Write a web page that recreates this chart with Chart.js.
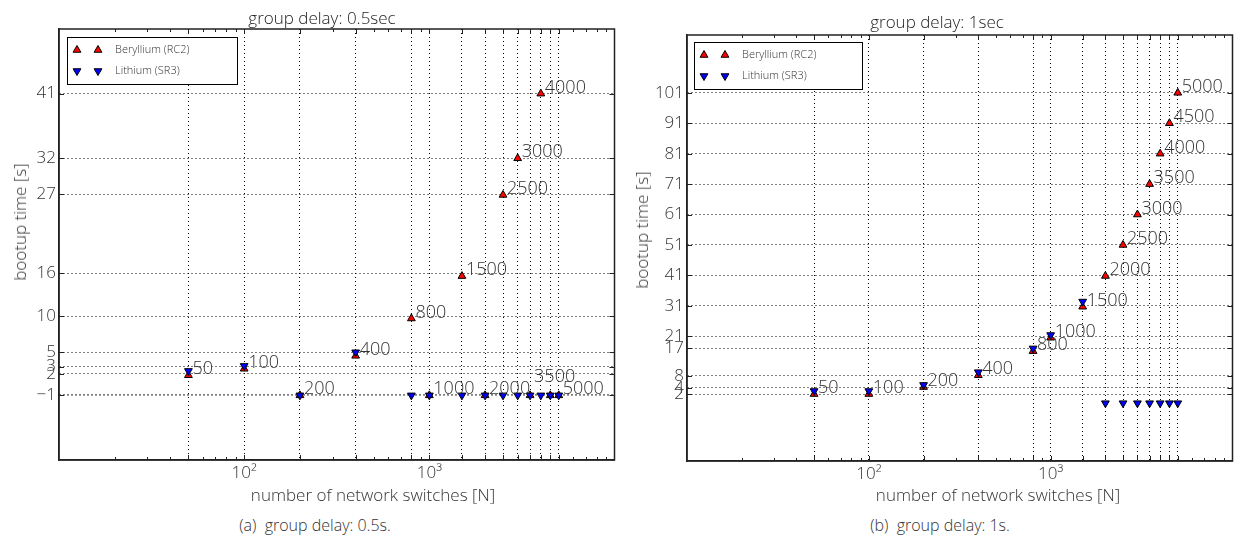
<!DOCTYPE html>
<html>
<head>
<meta charset="utf-8">
<script src="https://cdn.jsdelivr.net/npm/chart.js@4.4.1/dist/chart.umd.min.js"></script>
<style>
  body { margin: 0; background: #fff; }
  #wrap { position: relative; width: 1238px; height: 540px; font-family: "Open Sans", sans-serif; font-weight: 300; color: #333; }
  canvas { position: absolute; top: 0; }
  .txt { position: absolute; white-space: nowrap; line-height: 20px; transform: translateX(-50%); }
  .ylab { position: absolute; white-space: nowrap; line-height: 20px; font-size: 17px; transform: translate(-50%, -50%) rotate(-90deg); }
</style>
</head>
<body>
<div id="wrap">
  <canvas id="left" width="620" height="490" style="left:0"></canvas>
  <canvas id="right" width="618" height="490" style="left:620px"></canvas>

  <div class="txt" style="left:322px; top:8px; font-size:17px; color:#222">group delay: 0.5sec</div>
  <div class="txt" style="left:937px; top:12px; font-size:17px; color:#222">group delay: 1sec</div>
  <div class="ylab" style="left:20px; top:222px">bootup time [s]</div>
  <div class="ylab" style="left:642px; top:230px">bootup time [s]</div>
  <div class="txt" style="left:373px; top:485px; font-size:17px">number of network switches [N]</div>
  <div class="txt" style="left:998px; top:485px; font-size:17px">number of network switches [N]</div>
  <div class="txt" style="left:315px; top:515px; font-size:16px">(a)&nbsp; group delay: 0.5s.</div>
  <div class="txt" style="left:940px; top:515px; font-size:16px">(b)&nbsp; group delay: 1s.</div>
</div>

<script>
// number of switches (x, log scale)
const switches = [50, 100, 200, 400, 800, 1000, 1500, 2000, 2500, 3000, 3500, 4000, 4500, 5000];

// group delay 0.5 sec
const berylliumHalf = [1.8, 2.7, -1, 4.5, 9.7, -1, 15.6, -1, 26.9, 32, -1, 41, -1, -1];
const lithiumHalf   = [2.4, 3.1, -1, 5, -1, -1, -1, -1, -1, -1, -1, -1, -1, -1];
const yTicksHalf    = [-1, 2, 3, 5, 10, 16, 27, 32, 41];
const labelsHalf    = ["50", "100", "200", "400", "800", "1000", "1500", "2000", "2500", "3000", "3500", "4000", "", "5000"];

// group delay 1 sec
const berylliumOne = [2, 2, 4.3, 8.2, 16.1, 20.5, 30.7, 40.8, 51, 61, 71, 81, 91, 101];
const lithiumOne   = [3, 3, 5, 9.2, 17, 21.4, 32.4, -1, -1, -1, -1, -1, -1, -1];
const yTicksOne    = [2, 4, 8, 17, 21, 31, 41, 51, 61, 71, 81, 91, 101];
const labelsOne    = ["50", "100", "200", "400", "800", "1000", "1500", "2000", "2500", "3000", "3500", "4000", "4500", "5000"];

const seriesNames = ["Beryllium (RC2)", "Lithium (SR3)"];

const FONT = "'Open Sans', sans-serif";

function toPoints(ys) {
    return switches.map((x, i) => ({ x: x, y: ys[i] }));
}

function tri(ctx, x, y, r, rot, fill) {
    ctx.save();
    ctx.translate(x, y);
    ctx.rotate(rot);
    ctx.beginPath();
    for (let k = 0; k < 3; k++) {
        const a = k * 2 * Math.PI / 3;
        ctx.lineTo(Math.sin(a) * r, -Math.cos(a) * r);
    }
    ctx.closePath();
    ctx.fillStyle = fill;
    ctx.fill();
    ctx.lineWidth = 1;
    ctx.strokeStyle = "#000";
    ctx.stroke();
    ctx.restore();
}

// frame around the plot + inner tick marks (matplotlib style)
const frameTicks = {
    id: "frameTicks",
    afterDraw(chart) {
        const { ctx, chartArea: a, scales: { x, y } } = chart;
        ctx.save();
        ctx.strokeStyle = "#222";
        ctx.lineWidth = 1;
        ctx.beginPath();
        for (let d = 10; d < 10000; d *= 10) {
            for (let k = 2; k <= 9; k++) {
                const px = Math.round(x.getPixelForValue(d * k)) + 0.5;
                ctx.moveTo(px, a.bottom); ctx.lineTo(px, a.bottom - 3);
                ctx.moveTo(px, a.top); ctx.lineTo(px, a.top + 3);
            }
        }
        x.ticks.forEach(t => {
            const px = Math.round(x.getPixelForValue(t.value)) + 0.5;
            ctx.moveTo(px, a.bottom); ctx.lineTo(px, a.bottom - 5);
            ctx.moveTo(px, a.top); ctx.lineTo(px, a.top + 5);
        });
        y.ticks.forEach(t => {
            const py = Math.round(y.getPixelForValue(t.value)) + 0.5;
            ctx.moveTo(a.left, py); ctx.lineTo(a.left + 5, py);
            ctx.moveTo(a.right, py); ctx.lineTo(a.right - 5, py);
        });
        ctx.stroke();
        ctx.lineWidth = 1.5;
        ctx.strokeRect(a.left, a.top, a.right - a.left, a.bottom - a.top);
        ctx.restore();
    }
};

// number annotations next to the Beryllium markers
const pointLabels = {
    id: "pointLabels",
    afterDatasetsDraw(chart, args, opts) {
        const ctx = chart.ctx;
        const meta = chart.getDatasetMeta(0);
        ctx.save();
        ctx.font = "300 18px " + FONT;
        ctx.fillStyle = "#333";
        ctx.textAlign = "left";
        ctx.textBaseline = "middle";
        meta.data.forEach((pt, i) => {
            const txt = opts.texts[i];
            if (!txt) return;
            const nudge = (opts.nudge && opts.nudge[txt]) || 0;
            ctx.fillText(txt, pt.x + 4, pt.y - 6 + nudge);
        });
        ctx.restore();
    }
};

// legend box inside the plot, two markers per row
const boxLegend = {
    id: "boxLegend",
    afterDraw(chart, args, opts) {
        const { ctx, chartArea: a } = chart;
        const bx = a.left + opts.dx, by = a.top + opts.dy;
        ctx.save();
        ctx.fillStyle = "#fff";
        ctx.fillRect(bx, by, opts.w, 47);
        ctx.strokeStyle = "#000";
        ctx.lineWidth = 1;
        ctx.strokeRect(bx + 0.5, by + 0.5, opts.w, 47);
        ctx.font = "300 11px " + FONT;
        ctx.fillStyle = "#333";
        ctx.textBaseline = "middle";
        chart.data.datasets.forEach((ds, i) => {
            const ry = by + 13 + i * 21;
            tri(ctx, bx + 10, ry, 4.5, ds.pointRotation * Math.PI / 180, ds.pointBackgroundColor);
            tri(ctx, bx + 31, ry, 4.5, ds.pointRotation * Math.PI / 180, ds.pointBackgroundColor);
            ctx.fillText(ds.label, bx + 48, ry);
        });
        ctx.restore();
    }
};

function makeChart(id, be, li, yTicks, yMin, yMax, labels, lay) {
    return new Chart(document.getElementById(id), {
        type: "scatter",
        data: {
            datasets: [
                {
                    label: seriesNames[0],
                    data: toPoints(be),
                    pointStyle: "triangle",
                    pointRotation: 0,
                    pointRadius: 4.5,
                    pointBackgroundColor: "#ff0000",
                    pointBorderColor: "#000",
                    pointBorderWidth: 1,
                    order: 2
                },
                {
                    label: seriesNames[1],
                    data: toPoints(li),
                    pointStyle: "triangle",
                    pointRotation: 180,
                    pointRadius: 4.5,
                    pointBackgroundColor: "#0000ff",
                    pointBorderColor: "#000",
                    pointBorderWidth: 1,
                    order: 1
                }
            ]
        },
        options: {
            responsive: false,
            animation: false,
            layout: { padding: { top: lay.top, right: lay.right, left: 0, bottom: 0 } },
            scales: {
                x: {
                    type: "logarithmic",
                    min: 10,
                    max: 10000,
                    afterBuildTicks: s => { s.ticks = switches.map(v => ({ value: v })); },
                    afterFit: s => { s.height = lay.xh; },
                    ticks: {
                        autoSkip: false,
                        maxRotation: 0,
                        padding: 3,
                        color: "#333",
                        font: { family: FONT, size: 17, weight: 300 },
                        callback: v => v === 100 ? "10²" : v === 1000 ? "10³" : ""
                    },
                    grid: { color: "#000", lineWidth: 1, drawTicks: false },
                    border: { color: "#222", width: 1.5, dash: [1, 3] }
                },
                y: {
                    min: yMin,
                    max: yMax,
                    afterBuildTicks: s => { s.ticks = yTicks.map(v => ({ value: v })); },
                    afterFit: s => { s.width = lay.yw; },
                    ticks: {
                        autoSkip: false,
                        padding: 3,
                        color: "#333",
                        font: { family: FONT, size: 17, weight: 300 },
                        callback: v => v < 0 ? "\u2212" + Math.abs(v) : String(v)
                    },
                    grid: {
                        color: "#000",
                        lineWidth: c => (c.tick && c.tick.value === -1) ? 1.8 : 1,
                        drawTicks: false
                    },
                    border: { color: "#222", width: 1.5, dash: [1, 3] }
                }
            },
            plugins: {
                legend: { display: false },
                tooltip: { enabled: false },
                pointLabels: { texts: labels, nudge: lay.nudge },
                boxLegend: { dx: lay.ldx, dy: lay.ldy, w: lay.lw }
            }
        },
        plugins: [frameTicks, pointLabels, boxLegend]
    });
}

makeChart("left", berylliumHalf, lithiumHalf, yTicksHalf, -10, 50, labelsHalf,
    { top: 29, right: 5, xh: 30, yw: 59, ldx: 8, ldy: 8, lw: 170, nudge: { "3500": -12 } });

makeChart("right", berylliumOne, lithiumOne, yTicksOne, -20, 120, labelsOne,
    { top: 35, right: 3, xh: 29, yw: 67, ldx: 7, ldy: 7, lw: 168, nudge: {} });
</script>
</body>
</html>
